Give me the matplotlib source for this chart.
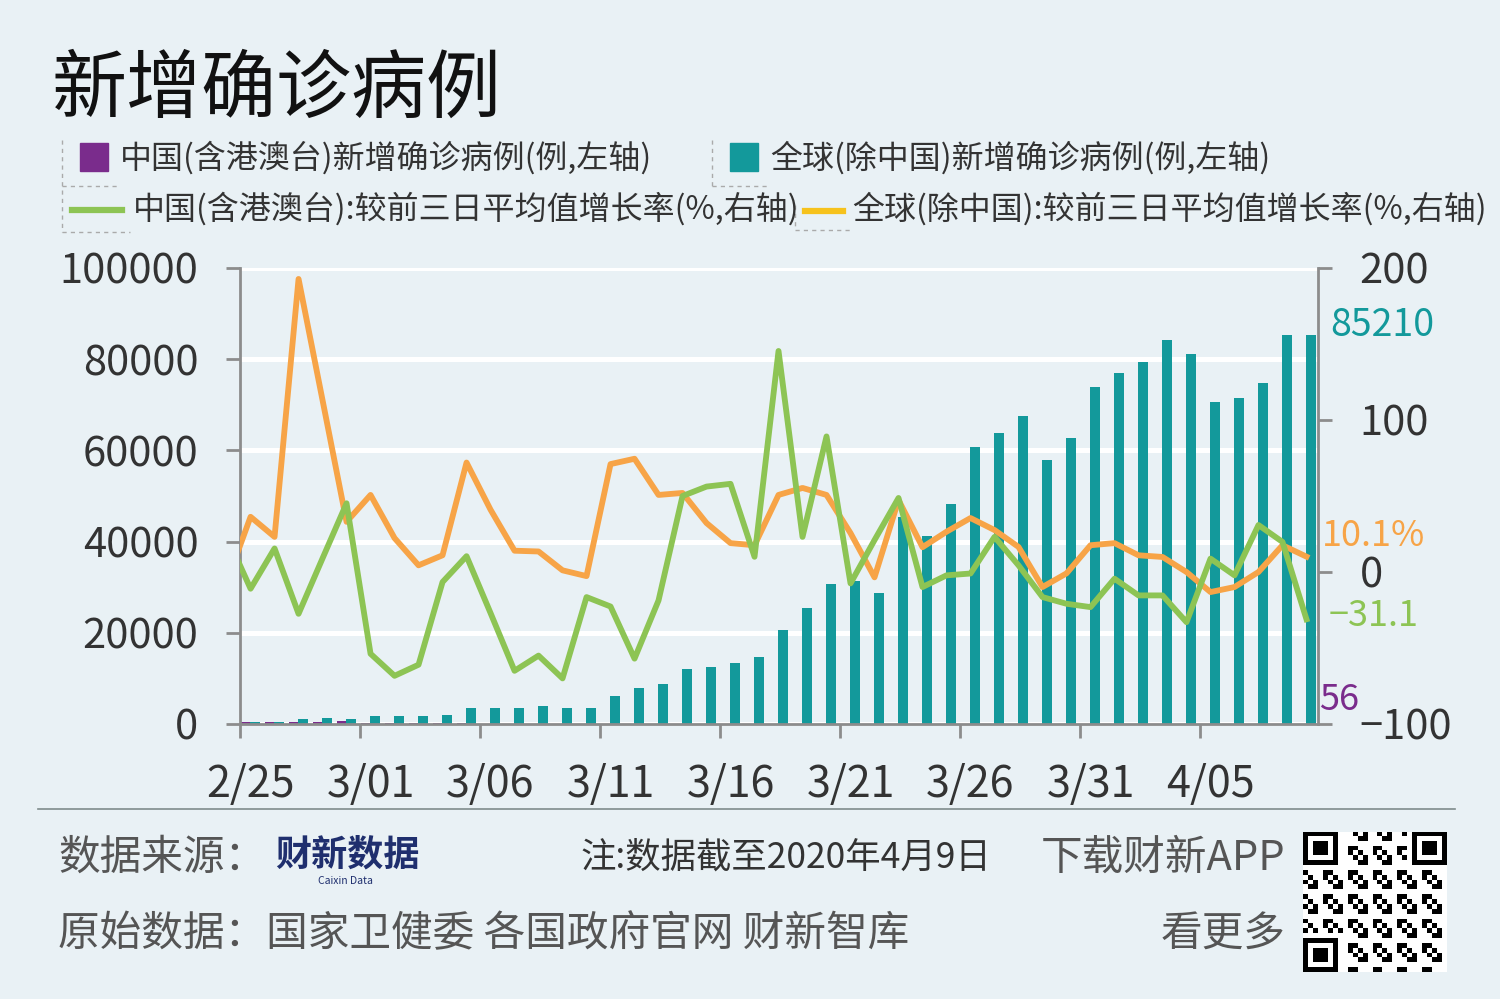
import matplotlib
matplotlib.use("Agg")
import matplotlib.pyplot as plt
import numpy as np
from matplotlib.lines import Line2D
from matplotlib.patches import Rectangle

plt.rcParams['font.family'] = ['Noto Sans CJK SC', 'DejaVu Sans']
plt.rcParams['axes.unicode_minus'] = True

# ---------------- data ----------------
dates = ['2/25', '2/26', '2/27', '2/28', '2/29',
         '3/01', '3/02', '3/03', '3/04', '3/05', '3/06', '3/07', '3/08', '3/09', '3/10',
         '3/11', '3/12', '3/13', '3/14', '3/15', '3/16', '3/17', '3/18', '3/19', '3/20',
         '3/21', '3/22', '3/23', '3/24', '3/25', '3/26', '3/27', '3/28', '3/29', '3/30',
         '3/31', '4/01', '4/02', '4/03', '4/04', '4/05', '4/06', '4/07', '4/08', '4/09']
tick_labels = ['2/25', '3/01', '3/06', '3/11', '3/16', '3/21', '3/26', '3/31', '4/05']

# 中国(含港澳台)新增确诊病例
china_new = [410, 440, 330, 430, 580, 205, 130, 125, 142, 146, 103, 46, 46, 23, 26,
             26, 15, 13, 24, 23, 26, 23, 41, 58, 53, 57, 56, 89, 92, 87,
             81, 75, 67, 63, 49, 63, 51, 37, 39, 44, 86, 65, 85, 94, 56]
# 全球(除中国)新增确诊病例
global_new = [350, 400, 1000, 1400, 1100, 1700, 1700, 1700, 2000, 3400, 3400, 3400, 3900, 3400, 3400,
              6100, 7800, 8800, 12000, 12600, 13300, 14700, 20600, 25500, 30800,
              31400, 28700, 45400, 41200, 48200, 60700, 63800, 67600, 58000, 62800,
              73900, 76900, 79300, 84200, 81100, 70700, 71400, 74800, 85400, 85210]

# growth rate vs previous 3-day average (%), series begin on 2/24
rate_dates = ['2/24'] + dates
china_rate = [24, -11, 15.5, -27.5, 9, 45.2, -53.8, -68.3, -61, -6.6, 10.4, -27, -65, -55, -70, -16.5,
              -22.7, -57, -18.7, 50, 56.2, 58, 10, 145.4, 23.1, 89.2, -7.5, 21, 48.7, -9.9, -2.2,
              -1, 23.1, 4.4, -16.5, -20.9, -23.1, -4.4, -15.4, -15.4, -33, 8.8, -2.2, 30.9, 19.8, -31.1]
global_rate = [-7, 36.3, 23.1, 192.8, 113, 33, 50.7, 22.3, 4.4, 11, 72, 41, 14, 13.5, 1.1, -2.7,
               71, 74.5, 50.7, 52, 32.2, 19, 17.6, 50.7, 55.3, 50.7, 25.6, -3.5, 47.4, 16.3, 26.5,
               35.5, 27.6, 16.5, -9.9, -0.9, 17.6, 19, 11, 9.9, 0, -13.2, -9.9, 0, 17.6, 10.1]

# ---------------- style ----------------
BG = '#e9f1f5'
PURPLE = '#7a2c8c'
TEAL = '#13999b'
GREEN = '#8dc454'
ORANGE = '#f7a447'
YELLOW = '#f6c21c'
SPINE = '#8c8c8c'
TXT = '#333333'
FOOT = '#555555'

W, H = 1500, 999
fig = plt.figure(figsize=(W / 100, H / 100), dpi=100, facecolor=BG)

def fx(x):
    return x / W

def fy(y):
    return 1 - y / H

ax = fig.add_axes([fx(240), fy(724), fx(1318) - fx(240), fy(268) - fy(724)])
ax.set_facecolor(BG)
ax2 = ax.twinx()

n = len(dates)
x = np.arange(n)
xr = np.arange(len(rate_dates)) - 1
bw = 0.4

ax.set_ylim(0, 100000)
ax.set_yticks(np.arange(0, 100001, 20000))
ax.yaxis.grid(True, color='white', linewidth=3.6, zorder=0)
ax.set_axisbelow(True)
ax.bar(x - 0.19, china_new, width=bw, color=PURPLE, zorder=2)
ax.bar(x + 0.19, global_new, width=bw, color=TEAL, zorder=2)

ax2.set_ylim(-100, 200)
ax2.set_yticks([-100, 0, 100, 200])
ax2.plot(xr, global_rate, color=ORANGE, linewidth=4.2, zorder=3)
ax2.plot(xr, china_rate, color=GREEN, linewidth=4.2, zorder=4)

left = -0.44
ax.set_xlim(left, n - 0.52)
ax.set_xticks(np.arange(0, n, 5) + left)
ax.set_xticklabels([])
ax.set_xticks(np.arange(0, n, 5), minor=True)
ax.set_xticklabels(tick_labels, minor=True)

for a in (ax, ax2):
    a.spines['top'].set_visible(False)
    for s in ('left', 'right', 'bottom'):
        a.spines[s].set_color(SPINE)
        a.spines[s].set_linewidth(2)
ax.spines['right'].set_visible(False)
ax2.spines['left'].set_visible(False)
ax2.spines['bottom'].set_visible(False)

ax.tick_params(axis='y', length=10, width=2, color=SPINE, pad=20, labelsize=30, labelcolor=TXT)
ax.tick_params(axis='x', which='major', length=10, width=2, color=SPINE)
ax.tick_params(axis='x', which='minor', length=0, pad=28, labelsize=31, labelcolor=TXT)
ax2.tick_params(axis='y', length=10, width=2, color=SPINE, pad=20, labelsize=30, labelcolor=TXT)

# end-value annotations
ax.annotate(f'{global_new[-1]}', xy=(x[-1], global_new[-1]), xytext=(17, 7),
            textcoords='offset points', color=TEAL, fontsize=27, va='center', ha='left')
ax.annotate(f'{china_new[-1]}', xy=(x[-1], china_new[-1]), xytext=(9, 17),
            textcoords='offset points', color=PURPLE, fontsize=26, va='center', ha='left')
ax2.annotate(f'{global_rate[-1]}%', xy=(xr[-1], global_rate[-1]), xytext=(11, 15),
             textcoords='offset points', color=ORANGE, fontsize=26, va='center', ha='left')
ax2.annotate(f'{china_rate[-1]}'.replace('-', '\u2212'), xy=(xr[-1], china_rate[-1]), xytext=(16, 2),
             textcoords='offset points', color=GREEN, fontsize=26, va='center', ha='left')

# ---------------- title & legend ----------------
fig.text(fx(52), fy(90), '新增确诊病例', fontsize=54, color='#111111', va='center', ha='left')

legend_fs = 23
fig.patches.append(Rectangle((fx(80), fy(171)), fx(28), fy(143) - fy(171), transform=fig.transFigure,
                             color=PURPLE, figure=fig))
fig.text(fx(120), fy(158), '中国(含港澳台)新增确诊病例(例,左轴)', fontsize=legend_fs, color=TXT, va='center')
fig.patches.append(Rectangle((fx(730), fy(171)), fx(28), fy(143) - fy(171), transform=fig.transFigure,
                             color=TEAL, figure=fig))
fig.text(fx(770), fy(158), '全球(除中国)新增确诊病例(例,左轴)', fontsize=legend_fs, color=TXT, va='center')
fig.add_artist(Line2D([fx(72), fx(122)], [fy(210), fy(210)], color=GREEN, linewidth=4.5))
fig.text(fx(133), fy(209), '中国(含港澳台):较前三日平均值增长率(%,右轴)', fontsize=legend_fs, color=TXT, va='center')
fig.add_artist(Line2D([fx(805), fx(843)], [fy(211), fy(211)], color=YELLOW, linewidth=4.5))
fig.text(fx(852), fy(209), '全球(除中国):较前三日平均值增长率(%,右轴)', fontsize=legend_fs, color=TXT, va='center')

# dashed legend frame fragments
dash_kw = dict(color='#aaaaaa', linewidth=1, linestyle=(0, (3, 3)))
for (x0, y0, x1, y1) in [(62, 140, 62, 232), (62, 186, 120, 186), (62, 232, 130, 232),
                         (712, 140, 712, 186), (712, 186, 770, 186),
                         (795, 205, 795, 230), (795, 230, 850, 230)]:
    fig.add_artist(Line2D([fx(x0), fx(x1)], [fy(y0), fy(y1)], **dash_kw))

# ---------------- footer ----------------
fig.add_artist(Line2D([fx(38), fx(1455)], [fy(809), fy(809)], color='#7f8c8c', linewidth=1.2))
foot_fs = 30
fig.text(fx(58), fy(858), '数据来源：', fontsize=foot_fs, color=FOOT, va='center')
fig.text(fx(275), fy(855), '财新数据', fontsize=26, color='#1f2f6e', va='center', fontweight='bold')
fig.text(fx(345), fy(881), 'Caixin Data', fontsize=7.5, color='#1f2f6e', va='center', ha='center')
fig.text(fx(580), fy(858), '注:数据截至2020年4月9日', fontsize=25.5, color='#333333', va='center')
fig.text(fx(1285), fy(858), '下载财新APP', fontsize=foot_fs, color=FOOT, va='center', ha='right')
fig.text(fx(58), fy(935), '原始数据：国家卫健委 各国政府官网 财新智库', fontsize=foot_fs, color=FOOT, va='center')
fig.text(fx(1285), fy(935), '看更多', fontsize=foot_fs, color=FOOT, va='center', ha='right')

# QR code decoration: deterministic module pattern plus finder squares
qr_ax = fig.add_axes([fx(1303), fy(972), fx(144), fy(832) - fy(972)])
qn = 29
ii, jj = np.meshgrid(np.arange(qn), np.arange(qn), indexing='ij')
modules = ((ii * 7 + jj * 13 + ii * jj) % 5 < 2).astype(float)
for (r0, c0) in [(0, 0), (0, qn - 7), (qn - 7, 0)]:
    r1 = max(r0 - 1, 0); c1 = max(c0 - 1, 0)
    modules[r1:r0 + 8, c1:c0 + 8] = 0
    modules[r0:r0 + 7, c0:c0 + 7] = 1
    modules[r0 + 1:r0 + 6, c0 + 1:c0 + 6] = 0
    modules[r0 + 2:r0 + 5, c0 + 2:c0 + 5] = 1
qr_ax.imshow(modules, cmap='Greys', vmin=0, vmax=1, interpolation='nearest', aspect='auto')
qr_ax.set_axis_off()

fig.savefig('out.png', dpi=100, facecolor=BG)
